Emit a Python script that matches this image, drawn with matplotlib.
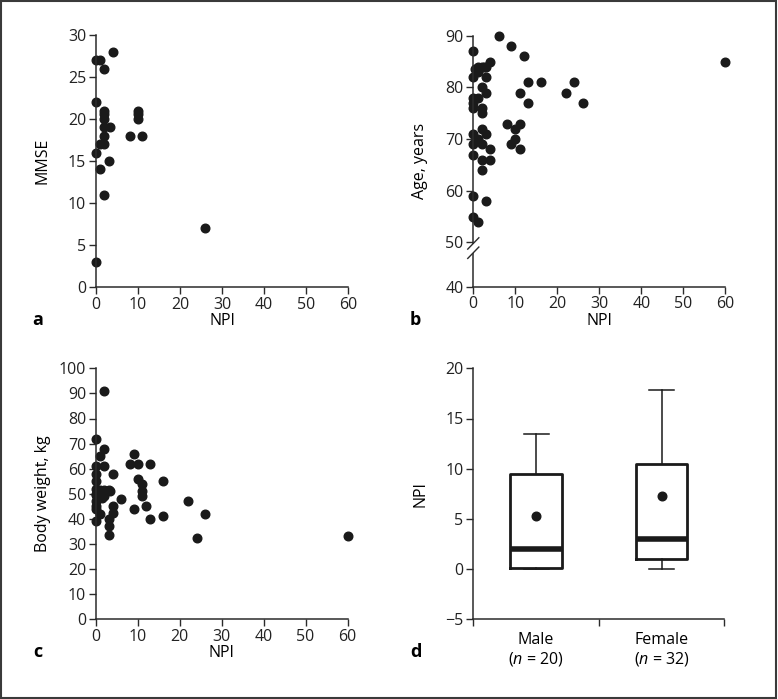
import matplotlib
matplotlib.use("Agg")
import matplotlib.pyplot as plt
import matplotlib.transforms as mtransforms
from matplotlib.patches import Rectangle

plt.rcParams['font.family'] = ['Open Sans', 'DejaVu Sans']
plt.rcParams['mathtext.fontset'] = 'custom'
plt.rcParams['mathtext.rm'] = 'Open Sans'
plt.rcParams['mathtext.it'] = 'Open Sans:italic'

# ---- Panel a: NPI vs MMSE ----
a_npi = [4, 0, 1, 2, 0, 2, 2, 2, 2, 3.3, 2, 1, 2, 0, 3.2, 1, 2, 0, 8, 11, 10, 10, 10, 26]
a_mmse = [28, 27, 27, 26, 22, 21, 20.6, 20, 19, 19, 18, 17, 17, 16, 15, 14, 11, 3, 18, 18, 21, 20.6, 20, 7]

# ---- Panel b: NPI vs Age ----
b_npi = [6, 9, 12, 0, 4, 1, 2, 3, 1, 0, 3, 2, 3, 0, 1, 0, 0, 2, 2, 13, 16, 11, 13, 22, 24, 26,
         8, 11, 10, 10, 9, 11, 0, 1, 3, 2, 0, 2, 4, 0, 2, 4, 2, 0, 3, 0, 1, 60, 0.5, 2.5]
b_age = [90, 88, 86, 87, 85, 84, 84, 84, 83, 82, 82, 80, 79, 78, 78, 77, 76, 76, 75, 81, 81, 79, 77, 79, 81, 77,
         73, 73, 72, 70, 69, 68, 71, 70, 71, 72, 69, 69, 68, 67, 66, 66, 64, 59, 58, 55, 54, 85, 83.5, 84]

# ---- Panel c: NPI vs Body weight ----
c_npi = [2, 0, 2, 1, 0, 2, 0, 4, 0, 0, 1, 2, 3, 3.3, 0, 1, 2, 1.5, 0, 0, 0, 1, 0, 4, 4, 3, 3, 3,
         6, 8, 10, 9, 13, 10, 11, 11, 11, 9, 12, 13, 16, 16, 22, 26, 24, 60, 0, 2]
c_weight = [91, 72, 68, 65, 61, 61, 58, 58, 55, 52, 51.5, 51.5, 51.5, 51, 49.5, 49, 49, 48.5, 47, 45, 44, 42, 39,
            45, 42.5, 40, 37, 33.5, 48, 62, 62, 66, 62, 56, 54, 51, 49, 44, 45, 40, 55, 41, 47, 42, 32.5, 33, 50, 50]

# ---- Panel d: NPI by sex (box summary) ----
d_groups = ['Male', 'Female']
d_n = [20, 32]
d_whislo = [0, 0]
d_q1 = [0.1, 1.0]
d_med = [2.0, 3.0]
d_q3 = [9.5, 10.5]
d_whishi = [13.5, 17.8]
d_mean = [5.3, 7.3]

W, H = 778, 699
fig = plt.figure(figsize=(W / 100, H / 100), dpi=100)

def px_axes(x0, x1, ytop, ybot):
    return fig.add_axes([x0 / W, 1 - ybot / H, (x1 - x0) / W, (ybot - ytop) / H])

ax_a = px_axes(96, 348, 35, 287)
ax_b = px_axes(473.3, 725.3, 35.7, 286.7)
ax_c = px_axes(96, 347.5, 368.3, 619.3)
ax_d = px_axes(473.3, 724.3, 368.3, 619.3)

spine_col = '#2b2b2b'
fs = 11.5
YLX = -0.18
XLY = -0.104

def style(ax):
    for s in ['top', 'right']:
        ax.spines[s].set_visible(False)
    for s in ['left', 'bottom']:
        ax.spines[s].set_color(spine_col)
        ax.spines[s].set_linewidth(1.1)
    ax.tick_params(direction='out', length=5, width=1.0, color=spine_col,
                   labelsize=fs, labelcolor='#222222', pad=2)

dot = dict(marker='o', linestyle='none', color='#1a1a1a', markersize=6.2, clip_on=False)

# Panel a
style(ax_a)
ax_a.plot(a_npi, a_mmse, **dot)
ax_a.set_xlim(0, 60)
ax_a.set_ylim(0, 30)
ax_a.set_xticks(range(0, 61, 10))
ax_a.set_yticks(range(0, 31, 5))
ax_a.set_xlabel('NPI', fontsize=fs)
ax_a.set_ylabel('MMSE', fontsize=fs)
ax_a.xaxis.set_label_coords(0.5, XLY)
ax_a.yaxis.set_label_coords(YLX, 0.5)
ax_a.text(-0.23, -0.131, 'a', transform=ax_a.transAxes, fontsize=13, fontweight='bold',
          ha='center', va='center')

# Panel b (broken axis)
style(ax_b)
ax_b.plot(b_npi, b_age, **dot)
ybot = 50 - 44.3 / 5.167
ax_b.set_xlim(0, 60)
ax_b.set_ylim(ybot, 90)
ax_b.set_xticks(range(0, 61, 10))
ax_b.set_yticks([ybot, 50, 60, 70, 80, 90])
ax_b.set_yticklabels(['40', '50', '60', '70', '80', '90'])
ax_b.set_xlabel('NPI', fontsize=fs)
ax_b.set_ylabel('Age, years', fontsize=fs)
ax_b.xaxis.set_label_coords(0.5, XLY)
ax_b.yaxis.set_label_coords(YLX, 0.5)
ax_b.text(-0.23, -0.131, 'b', transform=ax_b.transAxes, fontsize=13, fontweight='bold',
          ha='center', va='center')
tr = mtransforms.blended_transform_factory(ax_b.transAxes, ax_b.transData)
ax_b.add_patch(Rectangle((-0.01, 48.0), 0.02, 1.7, transform=tr, facecolor='white',
                         edgecolor='none', clip_on=False, zorder=5))
for yc in [49.8, 48.0]:
    ax_b.plot([-0.022, 0.022], [yc - 1.1, yc + 1.1], transform=tr, color=spine_col,
              lw=1.0, clip_on=False, zorder=6)

# Panel c
style(ax_c)
ax_c.plot(c_npi, c_weight, **dot)
ax_c.set_xlim(0, 60)
ax_c.set_ylim(0, 100)
ax_c.set_xticks(range(0, 61, 10))
ax_c.set_yticks(range(0, 101, 10))
ax_c.set_xlabel('NPI', fontsize=fs)
ax_c.set_ylabel('Body weight, kg', fontsize=fs)
ax_c.xaxis.set_label_coords(0.5, XLY)
ax_c.yaxis.set_label_coords(YLX, 0.5)
ax_c.text(-0.23, -0.13, 'c', transform=ax_c.transAxes, fontsize=13, fontweight='bold',
          ha='center', va='center')

# Panel d
style(ax_d)
stats = []
for i in range(2):
    stats.append(dict(label=d_groups[i], whislo=d_whislo[i], q1=d_q1[i], med=d_med[i],
                      q3=d_q3[i], whishi=d_whishi[i], fliers=[]))
ax_d.bxp(stats, positions=[1, 2], widths=0.41, showfliers=False,
         boxprops=dict(color='#1a1a1a', linewidth=2.0),
         medianprops=dict(color='#1a1a1a', linewidth=4.0),
         whiskerprops=dict(color='#1a1a1a', linewidth=1.1),
         capprops=dict(color='#1a1a1a', linewidth=1.1),
         capwidths=0.2)
ax_d.plot([1, 2], d_mean, **dot)
ax_d.set_xlim(0.5, 2.5)
ax_d.set_ylim(-5, 20)
ax_d.set_yticks(range(-5, 21, 5))
ax_d.set_xticks([0.5, 1.5, 2.5])
ax_d.set_xticklabels([])
for i in range(2):
    ax_d.text(i + 1, -5 - 20.5 / 10.04, d_groups[i], ha='center', va='center', fontsize=fs)
    ax_d.text(i + 1, -5 - 39.5 / 10.04, '($\\mathit{n}$ = %d)' % d_n[i], ha='center',
              va='center', fontsize=fs)
ax_d.set_ylabel('NPI', fontsize=fs)
ax_d.yaxis.set_label_coords(YLX, 0.5)
ax_d.text(-0.23, -0.13, 'd', transform=ax_d.transAxes, fontsize=13, fontweight='bold',
          ha='center', va='center')

# Figure frame
fig.patches.append(Rectangle((0.001, 0.001), 0.997, 0.997, transform=fig.transFigure,
                             fill=False, edgecolor='#3a3a3a', linewidth=1.5))

fig.savefig('out.png', dpi=100)
